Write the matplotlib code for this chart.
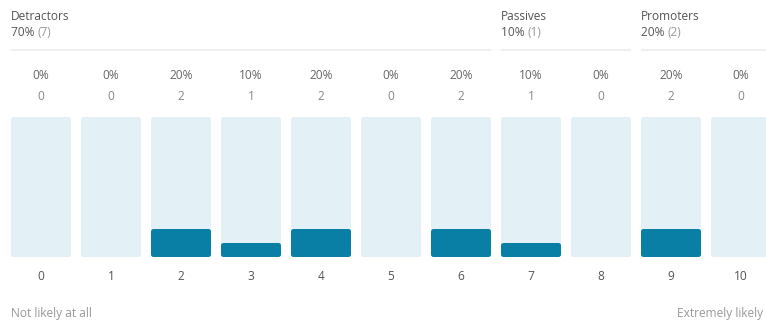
import matplotlib
matplotlib.use("Agg")
import matplotlib.pyplot as plt
from matplotlib.patches import FancyBboxPatch

categories = list(range(11))
counts = [0, 0, 2, 1, 2, 0, 2, 1, 0, 2, 0]
percents = [0, 0, 20, 10, 20, 0, 20, 10, 0, 20, 0]
groups = [("Detractors", 0, 6, 70, 7), ("Passives", 7, 8, 10, 1), ("Promoters", 9, 10, 20, 2)]
left_label = "Not likely at all"
right_label = "Extremely likely"

W, H = 766, 320
PITCH = 70.0
C0 = 41.0
BOT = 257.0
FULL = 140.0

def px2x(px):
    return (px - C0) / PITCH

def px2y(py):
    return (BOT - py) / FULL * 100.0

plt.rcParams['font.family'] = ['Open Sans', 'DejaVu Sans']
fig = plt.figure(figsize=(W / 100, H / 100), dpi=100)
ax = fig.add_axes([0, 0, 1, 1])
ax.set_xlim(px2x(0), px2x(W))
ax.set_ylim(px2y(H), px2y(0))
ax.axis('off')

bw = 60 / PITCH
light = "#e3f0f5"
dark = "#0a7fa6"
bg = ax.bar(categories, [100] * len(categories), width=bw, color=light, zorder=1)
fg = ax.bar(categories, percents, width=bw, color=dark, zorder=2)

r = 2.5 / PITCH
aspect = (2.5 / FULL * 100) / r
for cont, z in ((bg, 1), (fg, 2)):
    for p in cont.patches:
        x, y, w, h = p.get_x(), p.get_y(), p.get_width(), p.get_height()
        col = p.get_facecolor()
        p.remove()
        if h <= 0:
            continue
        ax.add_patch(FancyBboxPatch((x, y), w, h, boxstyle=f"round,pad=0,rounding_size={r}",
                                    mutation_aspect=aspect, facecolor=col, edgecolor='none', zorder=z))

fs = 8.6
for c, p, n in zip(categories, percents, counts):
    ax.text(c, px2y(76), f"{p}%", ha='center', va='center', fontsize=fs, color="#666666")
    ax.text(c, px2y(97), f"{n}", ha='center', va='center', fontsize=fs, color="#888888")
    ax.text(c, px2y(276), f"{c}", ha='center', va='center', fontsize=fs, color="#555555")

for name, a, b, pct, n in groups:
    x0 = a - bw / 2
    x1 = b + bw / 2
    ax.text(x0, px2y(17), name, ha='left', va='center', fontsize=fs, color="#555555")
    t = ax.text(x0, px2y(33), f"{pct}% ", ha='left', va='center', fontsize=fs, color="#555555")
    ax.annotate(f"({n})", xycoords=t, xy=(1, 0), va='bottom', ha='left', fontsize=fs, color="#999999")
    ax.plot([x0, x1], [px2y(50), px2y(50)], color="#ececec", lw=1.2, solid_capstyle='butt')

ax.text(px2x(11), px2y(313), left_label, ha='left', va='center', fontsize=fs, color="#999999")
ax.text(px2x(677), px2y(313), right_label, ha='left', va='center', fontsize=fs, color="#999999")

fig.savefig("out.png", dpi=100)
